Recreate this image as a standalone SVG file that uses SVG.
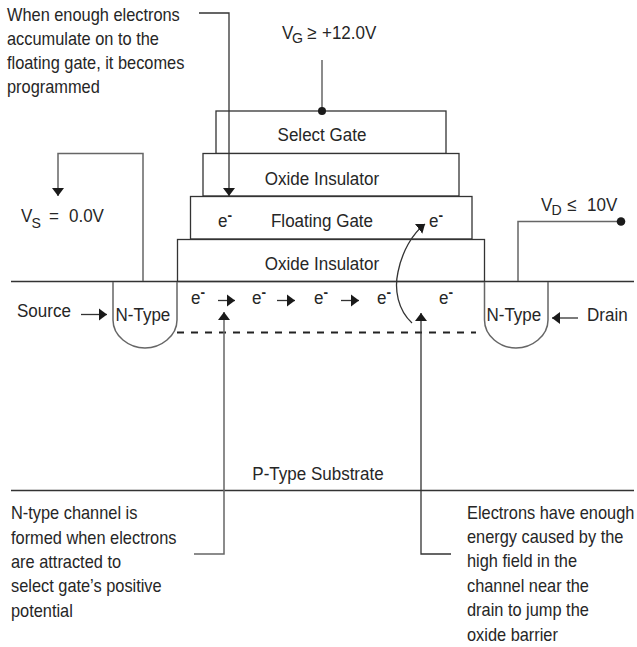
<svg xmlns="http://www.w3.org/2000/svg" width="637" height="647" viewBox="0 0 637 647">
<style>
text{font-family:"Liberation Sans",Arial,sans-serif;font-size:18.700px;fill:#262626;transform-box:fill-box;transform-origin:0 50%;transform:translateY(-1px) scaleX(.91)}
.n{font-size:18px}
.s{font-size:15.500px}
.e{font-size:15px;font-weight:bold}
.m{text-anchor:middle;transform-origin:50% 50%}
.b{fill:#fff;stroke:#333;stroke-width:1.300}
.c{fill:none;stroke:#333;stroke-width:1.300}
.g{fill:none;stroke:#666;stroke-width:1.500}
.h{fill:#1a1a1a;stroke:none}
</style>
<defs>
<marker id="a" markerUnits="userSpaceOnUse" markerWidth="9" markerHeight="13" refX="8" refY="6.500" orient="auto"><path d="M0 0.500L8 6.500L0 12.500Z" fill="#1a1a1a"/></marker>
</defs>
<rect width="637" height="647" fill="#fff"/>
<g id="select-gate"><rect class="b" x="216" y="111" width="230" height="42.500"/><text class="m" x="322" y="142">Select Gate</text></g>
<g id="oxide-upper"><rect class="b" x="203" y="153.500" width="256" height="42.500"/><text class="m" x="322" y="186">Oxide Insulator</text></g>
<g id="floating-gate"><rect class="b" x="190.500" y="196.500" width="281.500" height="42.500"/><text class="m" x="322" y="228">Floating Gate</text><text x="218" y="228">e<tspan class="e" dy="-7">-</tspan></text><text x="429" y="228">e<tspan class="e" dy="-7">-</tspan></text></g>
<g id="oxide-lower"><rect class="b" x="177.500" y="239.500" width="307" height="42"/><text class="m" x="322" y="271">Oxide Insulator</text></g>
<g id="substrate"><path class="c" d="M11 281.500H634M11 490.500H634"/><text class="m" x="318" y="481">P-Type Substrate</text></g>
<g id="source-well"><path class="g" d="M113 282V320C113 336 129 348 145 348C161 348 177 336 177 320V282"/><text x="115.500" y="322">N-Type</text></g>
<g id="drain-well"><path class="g" d="M484.500 282V320C484.500 336 500 348 516 348C532 348 548 336 548 320V282"/><text x="486.500" y="322">N-Type</text></g>
<g id="labels">
<text class="n" x="7" y="22">When enough electrons</text><text class="n" x="7" y="46">accumulate on to the</text><text class="n" x="7" y="70">floating gate, it becomes</text><text class="n" x="7" y="94">programmed</text>
<text x="282" y="40">V</text><text class="s" x="292" y="44">G</text><text x="307" y="40">≥</text><text x="322" y="40">+12.0V</text>
<text x="21" y="223">V</text><text class="s" x="31.500" y="229">S</text><text x="49" y="223">=</text><text x="69" y="223">0.0V</text>
<text x="541" y="212">V</text><text class="s" x="551.500" y="216">D</text><text x="567" y="212">≤</text><text x="587" y="212">10V</text>
<text x="17" y="318">Source</text><text x="587" y="322">Drain</text>
<text x="191" y="305">e<tspan class="e" dy="-7">-</tspan></text><text x="252" y="305">e<tspan class="e" dy="-7">-</tspan></text><text x="314" y="305">e<tspan class="e" dy="-7">-</tspan></text><text x="377" y="305">e<tspan class="e" dy="-7">-</tspan></text><text x="439" y="305">e<tspan class="e" dy="-7">-</tspan></text>
<text class="n" x="11" y="520">N-type channel is</text><text class="n" x="11" y="545">formed when electrons</text><text class="n" x="11" y="569">are attracted to</text><text class="n" x="11" y="593">select gate’s positive</text><text class="n" x="11" y="618">potential</text>
<text class="n" x="467" y="520">Electrons have enough</text><text class="n" x="467" y="544">energy caused by the</text><text class="n" x="467" y="568">high field in the</text><text class="n" x="467" y="593">channel near the</text><text class="n" x="467" y="617">drain to jump the</text><text class="n" x="467" y="642">oxide barrier</text>
</g>
<g id="connectors">
<path class="c" d="M199 13H229V196" marker-end="url(#a)"/>
<path class="g" d="M322 60V111"/><circle class="h" cx="322" cy="111" r="4"/>
<path class="g" d="M143 281V153.500H58V196" marker-end="url(#a)"/>
<path class="g" d="M518 281V221.500H621"/><circle class="h" cx="621" cy="221.500" r="4.300"/>
<path class="c" d="M81 314.500H107" marker-end="url(#a)"/>
<path class="c" d="M578 318H552" marker-end="url(#a)"/>
<path class="c" d="M218 300.500H235" marker-end="url(#a)"/>
<path class="c" d="M277 300.500H295" marker-end="url(#a)"/>
<path class="c" d="M341 300.500H359" marker-end="url(#a)"/>
<path class="c" d="M412 323C398 310 394 290 398 272C402 252 412 234 425 224" marker-end="url(#a)"/>
<path d="M177 332.500H476" fill="none" stroke="#222" stroke-width="2" stroke-dasharray="7 7"/>
<path class="g" d="M194 554H224V312" marker-end="url(#a)"/>
<path class="c" d="M451 554H421V313" marker-end="url(#a)"/>
</g>
</svg>
